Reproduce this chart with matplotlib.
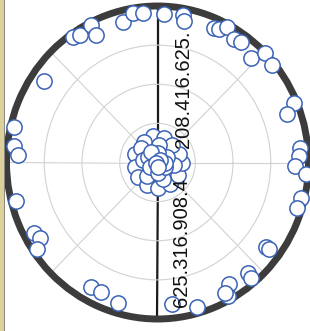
import numpy as np
import matplotlib
matplotlib.use("Agg")
import matplotlib.pyplot as plt
from matplotlib.patches import Rectangle

plt.rcParams['font.family'] = ['Liberation Sans', 'DejaVu Sans']

# Edge points: angle (deg), radius (fraction of outer ring)
edge_theta = [125.0, 122.3, 116.7, 116.6, 104.3, 99.7, 95.8, 87.4, 79.8, 79.0,
              66.4, 64.4, 61.9, 57.2, 54.2, 47.1, 44.4, 39.3,
              22.7, 19.8, 5.6, 2.5, -1.4, -4.3, -13.4, -17.4,
              -36.8, -36.7, -49.5, -49.9, -58.5, -61.2, -61.7,
              -83.9, -74.1, -119.0, -114.4, -106.3,
              -151.3, -148.3, -145.4, -165.3, 166.6, 173.7, 177.0, 145.4]
edge_r = [0.979, 0.964, 0.984, 0.912, 0.927, 0.969, 0.960, 0.950, 0.957, 0.921,
          0.938, 0.946, 0.981, 0.939, 0.949, 0.912, 1.000, 0.983,
          0.983, 0.914, 0.951, 0.941, 0.914, 0.983, 0.980, 0.971,
          0.901, 0.924, 0.925, 0.965, 0.910, 0.973, 0.947,
          0.909, 0.960, 0.910, 0.908, 0.935,
          0.936, 0.918, 0.973, 0.972, 0.980, 0.959, 0.928, 0.917]

# Central cluster
center_theta = [100, 75, 125, 160, 190, 215, 245, 270, 300, 330, 0, 20, 50, 140,
                85, 350, 230, 170, 290,
                30, 90, 150, 210, 270, 330, 120, 0, 45, 200, 280]
center_r = [0.17, 0.16, 0.16, 0.16, 0.15, 0.16, 0.16, 0.16, 0.16, 0.16, 0.16, 0.15, 0.15, 0.14,
            0.11, 0.11, 0.11, 0.10, 0.11,
            0.07, 0.06, 0.07, 0.06, 0.07, 0.06, 0.08, 0.05, 0.02, 0.01, 0.03]

label_upper = "208.416.625."
label_lower = "625.316.908.4"

W, H = 310, 331
fig = plt.figure(figsize=(W / 100, H / 100), dpi=100)
fig.patch.set_facecolor('white')

# scanned page edge on the left
fig.patches.append(Rectangle((0, 0), 4.5 / W, 1, transform=fig.transFigure,
                             facecolor='#dcd09c', edgecolor='none', zorder=0))
fig.patches.append(Rectangle((4.0 / W, 0), 1.2 / W, 1, transform=fig.transFigure,
                             facecolor='#8a8a80', edgecolor='none', zorder=0))

cx, cy = 157.5, 162.5
rx, ry = 151.0, 156.5
ax = fig.add_axes([(cx - rx) / W, (H - cy - ry) / H, 2 * rx / W, 2 * ry / H],
                  projection='polar')
ax.set_aspect('auto')
ax.set_facecolor('white')
ax.set_ylim(0, 1)
ax.set_thetagrids(np.arange(0, 360, 45))
ax.set_rgrids([0.25, 0.5, 0.75])
ax.set_xticklabels([])
ax.set_yticklabels([])
ax.tick_params(length=0)
ax.grid(True, color='#d2d2d2', lw=0.8)
gl = ax.xaxis.get_gridlines()
for i in (2, 6):
    gl[i].set_color('#1a1a1a')
    gl[i].set_linewidth(1.6)
ax.spines['polar'].set_color('#3c3c3c')
ax.spines['polar'].set_linewidth(5.0)

mk = dict(linestyle='none', marker='o', mfc='white', mec='#3b62b5', ms=11, mew=1.1,
          clip_on=False, zorder=3)
ax.plot(np.deg2rad(edge_theta), edge_r, **mk)
ax.plot(np.deg2rad(center_theta), center_r, **mk)

fig.text(183 / W, 1 - 148 / H, label_upper, rotation=90, ha='center', va='bottom',
         fontsize=14.5, color='#111111')
fig.text(182 / W, 1 - 307 / H, label_lower, rotation=90, ha='center', va='bottom',
         fontsize=14.5, color='#111111')

fig.savefig('out.png', dpi=100)
